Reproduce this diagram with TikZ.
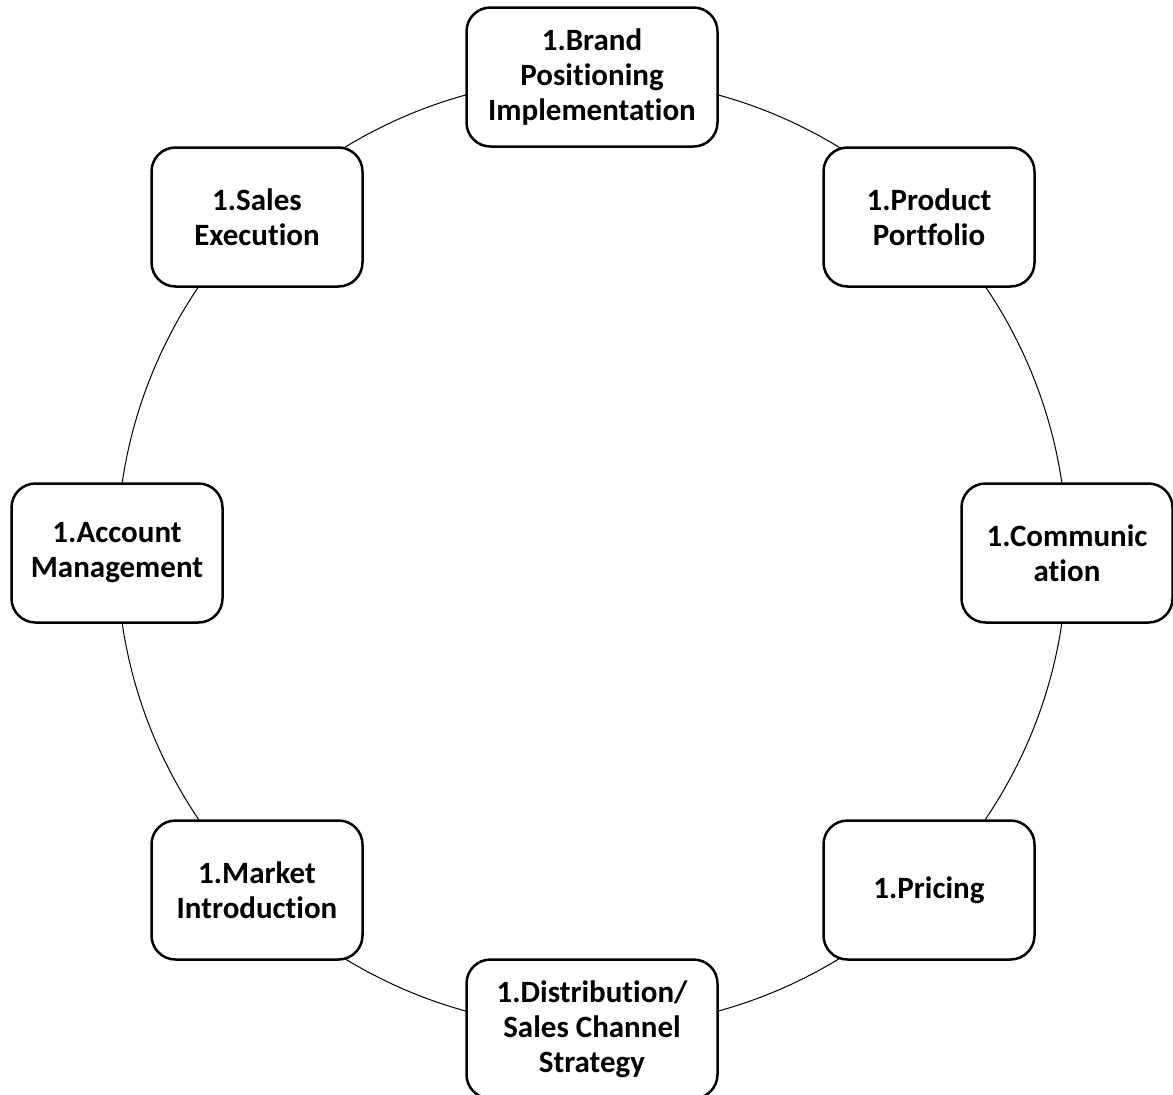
\documentclass[tikz,border=0pt]{standalone}
\usepackage{fontspec}
\setmainfont{Carlito}[Ligatures=NoCommon]
\begin{document}
\begin{tikzpicture}[x=1pt,y=-1pt,
  stage/.style={draw, line width=2.5pt, rounded corners=24pt, fill=white,
    minimum width=211pt, minimum height=139pt, inner sep=0pt, align=center,
    font=\bfseries\fontsize{31}{35}\selectfont},
  widestage/.style={stage, minimum width=251pt},
  ring/.style={draw, line width=1pt}]
  \useasboundingbox (0,0) rectangle (1173,1095);
  \clip (0,0) rectangle (1173,1095);
  \coordinate (hub) at (592,553);
  % the cycle behind the stages
  \draw[ring] (hub) circle (475);
  \node[widestage] (brand) at (592,77) {1.Brand\\Positioning\\Implementation};
  \node[stage] (product) at (929,217) {1.Product\\Portfolio};
  \node[stage] (comm) at (1067,553) {1.Communic\\ation};
  \node[stage] (pricing) at (929,890) {1.Pricing};
  \node[widestage] (distrib) at (592,1029) {1.Distribution/\\Sales Channel\\Strategy};
  \node[stage] (market) at (257,890) {1.Market\\Introduction};
  \node[stage] (account) at (117,553) {1.Account\\Management};
  \node[stage] (sales) at (257,217) {1.Sales\\Execution};
\end{tikzpicture}
\end{document}
